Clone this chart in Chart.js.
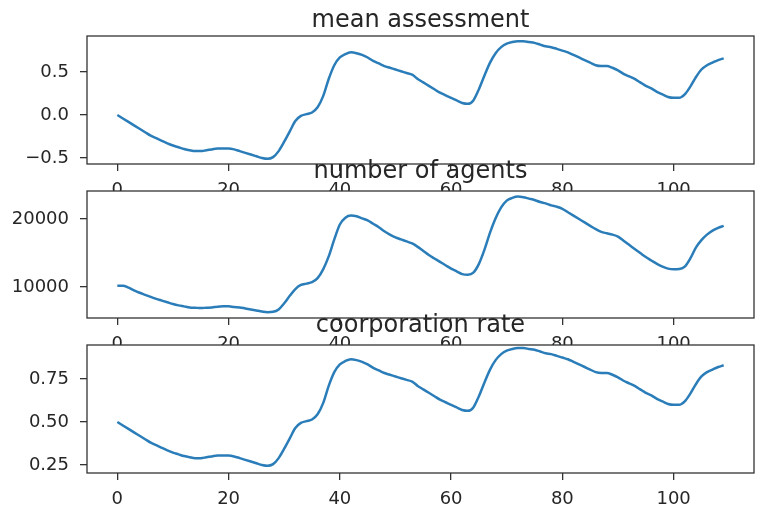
<!DOCTYPE html>
<html>
<head>
<meta charset="utf-8">
<script src="https://cdn.jsdelivr.net/npm/chart.js@4.4.1/dist/chart.umd.min.js"></script>
<style>
  html, body { margin: 0; padding: 0; background: #fff; }
  #wrap { position: relative; width: 761px; height: 510px; }
  #wrap canvas { position: absolute; left: 0; top: 0; }
</style>
</head>
<body>
<div id="wrap">
  <canvas id="c1" width="761" height="510"></canvas>
  <canvas id="c2" width="761" height="510"></canvas>
  <canvas id="c3" width="761" height="510"></canvas>
</div>
<script>
// values, one per step 0..109
const meanAssessment = [
  0.00, -0.04, -0.08, -0.12, -0.16, -0.20, -0.24, -0.27, -0.30, -0.33,
  -0.355, -0.375, -0.395, -0.41, -0.42, -0.42, -0.41, -0.40, -0.39, -0.39,
  -0.39, -0.40, -0.42, -0.44, -0.46, -0.48, -0.50, -0.51, -0.49, -0.42,
  -0.31, -0.19, -0.07, -0.01, 0.01, 0.03, 0.09, 0.22, 0.42, 0.58,
  0.67, 0.71, 0.73, 0.72, 0.70, 0.67, 0.63, 0.60, 0.57, 0.55,
  0.53, 0.51, 0.49, 0.47, 0.42, 0.38, 0.34, 0.30, 0.26, 0.23,
  0.20, 0.17, 0.14, 0.13, 0.17, 0.30, 0.46, 0.61, 0.72, 0.79,
  0.83, 0.85, 0.86, 0.86, 0.85, 0.84, 0.82, 0.80, 0.79, 0.77,
  0.75, 0.73, 0.70, 0.67, 0.64, 0.61, 0.58, 0.57, 0.57, 0.55,
  0.52, 0.48, 0.45, 0.42, 0.38, 0.34, 0.31, 0.27, 0.24, 0.21,
  0.20, 0.20, 0.24, 0.33, 0.44, 0.53, 0.58, 0.61, 0.64, 0.66
];
const numberOfAgents = [
  10200, 10200, 9900, 9500, 9150, 8850, 8550, 8250, 8000, 7750,
  7500, 7300, 7150, 7000, 6950, 6900, 6950, 7000, 7100, 7150,
  7150, 7050, 7000, 6850, 6700, 6550, 6400, 6300, 6350, 6700,
  7600, 8700, 9700, 10300, 10500, 10700, 11300, 12600, 14500, 17000,
  19200, 20200, 20500, 20400, 20100, 19800, 19300, 18800, 18200, 17700,
  17300, 17000, 16700, 16400, 15900, 15300, 14700, 14200, 13700, 13200,
  12700, 12300, 11900, 11800, 12100, 13400, 15500, 18000, 20100, 21700,
  22700, 23100, 23300, 23200, 23000, 22800, 22500, 22300, 22000, 21800,
  21500, 21000, 20500, 20000, 19500, 19000, 18500, 18100, 17900, 17700,
  17400, 16800, 16200, 15600, 15000, 14400, 13900, 13400, 13000, 12700,
  12600, 12650, 13000, 14200, 15800, 16900, 17700, 18300, 18700, 19000
];
const coorporationRate = [
  0.50, 0.48, 0.46, 0.44, 0.42, 0.40, 0.38, 0.365, 0.35, 0.335,
  0.322, 0.312, 0.302, 0.295, 0.29, 0.29, 0.295, 0.30, 0.305, 0.305,
  0.305, 0.30, 0.29, 0.28, 0.27, 0.26, 0.25, 0.245, 0.255, 0.29,
  0.345, 0.405, 0.465, 0.495, 0.505, 0.515, 0.545, 0.61, 0.71, 0.79,
  0.835, 0.855, 0.865, 0.86, 0.85, 0.835, 0.815, 0.80, 0.785, 0.775,
  0.765, 0.755, 0.745, 0.735, 0.71, 0.69, 0.67, 0.65, 0.63, 0.615,
  0.60, 0.585, 0.57, 0.565, 0.585, 0.65, 0.73, 0.805, 0.86, 0.895,
  0.915, 0.925, 0.93, 0.93, 0.925, 0.92, 0.91, 0.90, 0.895, 0.885,
  0.875, 0.865, 0.85, 0.835, 0.82, 0.805, 0.79, 0.785, 0.785, 0.775,
  0.76, 0.74, 0.725, 0.71, 0.69, 0.67, 0.655, 0.635, 0.62, 0.605,
  0.60, 0.60, 0.62, 0.665, 0.72, 0.765, 0.79, 0.805, 0.82, 0.83
];

const xTicks = [0, 20, 40, 60, 80, 100];
const meanTicks = [-0.5, 0.0, 0.5];
const agentTicks = [10000, 20000];
const rateTicks = [0.25, 0.50, 0.75];

const titles = ['mean assessment', 'number of agents', 'coorporation rate'];

const W = 761, H = 510;
const AREA_LEFT = 87, AREA_RIGHT = 754;
const X_AXIS_H = 40;
const INK = '#262626';
const LINE = '#2a7db8';

// draws the white axes face, the box and the title
const framePlugin = {
    id: 'frame',
    beforeDraw(chart) {
        const a = chart.chartArea;
        const c = chart.ctx;
        c.save();
        c.fillStyle = '#fff';
        c.fillRect(a.left, a.top, a.right - a.left, a.bottom - a.top);
        c.restore();
    },
    afterDraw(chart, args, opts) {
        const a = chart.chartArea;
        const c = chart.ctx;
        c.save();
        c.strokeStyle = '#333';
        c.lineWidth = 1.3;
        c.strokeRect(a.left, a.top, a.right - a.left, a.bottom - a.top);
        c.fillStyle = INK;
        c.font = '24px "DejaVu Sans"';
        c.textAlign = 'center';
        c.textBaseline = 'alphabetic';
        c.fillText(opts.text, (a.left + a.right) / 2, opts.baseline);
        c.restore();
    }
};

function makeChart(id, values, yMin, yMax, yTicks, fmt, top, bottom, title, titleBase) {
    return new Chart(document.getElementById(id), {
        type: 'line',
        data: {
            datasets: [{
                data: values.map((v, i) => ({ x: i, y: v })),
                borderColor: LINE,
                borderWidth: 2.5,
                pointRadius: 0,
                cubicInterpolationMode: 'monotone',
                fill: false
            }]
        },
        options: {
            responsive: false,
            animation: false,
            layout: { padding: { left: 0, right: W - AREA_RIGHT, top: top, bottom: H - bottom - X_AXIS_H } },
            plugins: {
                legend: { display: false },
                tooltip: { enabled: false },
                frame: { text: title, baseline: titleBase }
            },
            scales: {
                x: {
                    type: 'linear',
                    min: -5.45,
                    max: 114.45,
                    afterBuildTicks: s => { s.ticks = xTicks.map(v => ({ value: v })); },
                    afterFit: s => { s.height = X_AXIS_H; },
                    border: { display: false },
                    grid: { drawOnChartArea: false, tickLength: 7, color: '#333', lineWidth: 1.3 },
                    ticks: { autoSkip: false, maxRotation: 0, padding: 9, color: INK,
                             font: { family: 'DejaVu Sans', size: 18 } }
                },
                y: {
                    type: 'linear',
                    min: yMin,
                    max: yMax,
                    afterBuildTicks: s => { s.ticks = yTicks.map(v => ({ value: v })); },
                    afterFit: s => { s.width = AREA_LEFT; },
                    border: { display: false },
                    grid: { drawOnChartArea: false, tickLength: 7, color: '#333', lineWidth: 1.3 },
                    ticks: { padding: 11, color: INK, callback: fmt,
                             font: { family: 'DejaVu Sans', size: 18 } }
                }
            }
        },
        plugins: [framePlugin]
    });
}

makeChart('c1', meanAssessment, -0.57, 0.92, meanTicks,
    v => (v < 0 ? '\u2212' + Math.abs(v).toFixed(1) : v.toFixed(1)), 36, 164, titles[0], 27);
makeChart('c2', numberOfAgents, 5440, 24120, agentTicks,
    v => String(v), 191, 318, titles[1], 178);
makeChart('c3', coorporationRate, 0.2035, 0.948, rateTicks,
    v => v.toFixed(2), 345, 473, titles[2], 332);
</script>
</body>
</html>
